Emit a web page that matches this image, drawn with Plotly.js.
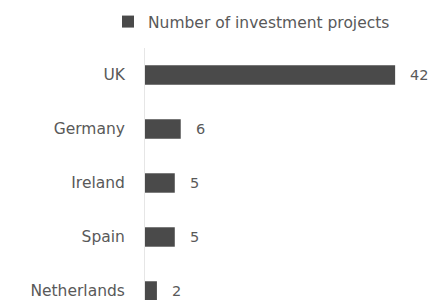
<!DOCTYPE html>
<html>
<head>
<meta charset="utf-8">
<script src="https://cdn.plot.ly/plotly-3.0.1.min.js"></script>
<style>html,body{margin:0;padding:0;background:#fff;}#chart{width:445px;height:300px;}</style>
</head>
<body>
<div id="chart"></div>
<script>
var countries = ["UK", "Germany", "Ireland", "Spain", "Netherlands"];
var projects = [42, 6, 5, 5, 2];
var seriesName = "Number of investment projects";

var barColor = "#4a4a4a";
var textColor = "#595959";
var fontFamily = "DejaVu Sans, sans-serif";

var trace = {
  type: "bar",
  orientation: "h",
  x: projects,
  y: countries,
  name: seriesName,
  marker: {color: barColor},
  width: 0.36,
  showlegend: true,
  hoverinfo: "skip"
};

var annotations = countries.map(function (c, i) {
  return {
    x: projects[i], y: c, xref: "x", yref: "y",
    text: String(projects[i]), showarrow: false,
    xanchor: "left", yanchor: "middle", xshift: 13,
    font: {family: fontFamily, size: 14.5, color: textColor}
  };
});

var layout = {
  width: 445, height: 300,
  margin: {l: 145, r: 32, t: 48, b: 0},
  paper_bgcolor: "#ffffff",
  plot_bgcolor: "#ffffff",
  font: {family: fontFamily, size: 15, color: textColor},
  showlegend: true,
  legend: {
    orientation: "h",
    xref: "container", yref: "container",
    x: 108 / 445, y: 1 - 22 / 300,
    xanchor: "left", yanchor: "middle",
    font: {family: fontFamily, size: 15.5, color: textColor},
    bgcolor: "rgba(0,0,0,0)"
  },
  xaxis: {
    range: [0, 45],
    visible: false,
    showgrid: false,
    zeroline: false
  },
  yaxis: {
    type: "category",
    range: [4.167, -0.5],
    showline: true,
    linecolor: "#e6e6e6",
    linewidth: 1,
    ticks: "",
    ticklabelstandoff: 16,
    showgrid: false,
    zeroline: false,
    tickfont: {family: fontFamily, size: 15.5, color: textColor}
  },
  annotations: annotations
};

Plotly.newPlot("chart", [trace], layout, {displayModeBar: false, staticPlot: true});
</script>
</body>
</html>
